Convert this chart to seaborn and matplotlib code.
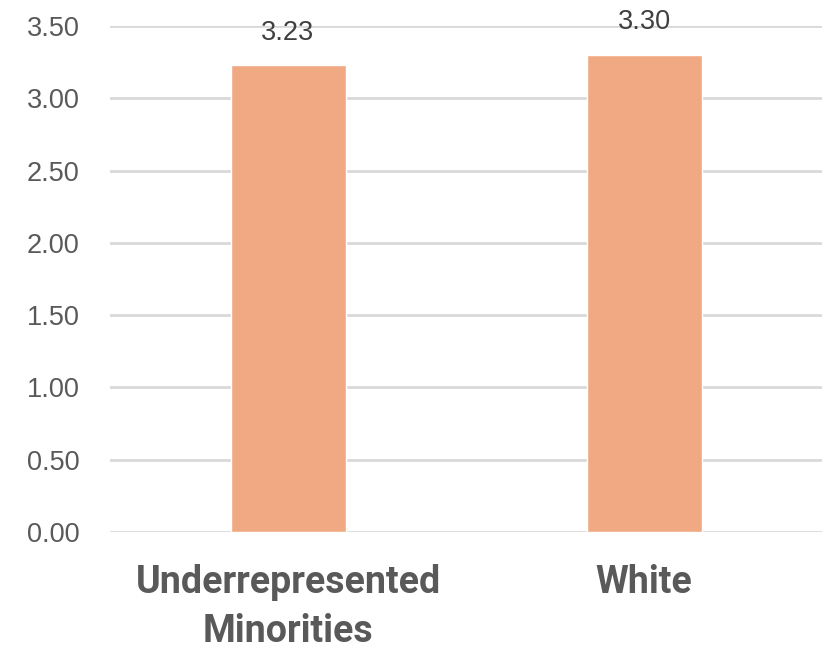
import matplotlib
matplotlib.use("Agg")
import matplotlib.pyplot as plt
from matplotlib import font_manager
import seaborn as sns
import pandas as pd

categories = ["Underrepresented\nMinorities", "White"]
values = [3.23, 3.30]
value_labels = ["3.23", "3.30"]
yticks = [0.0, 0.5, 1.0, 1.5, 2.0, 2.5, 3.0, 3.5]

sns.set_theme(style="white")
plt.rcParams['font.family'] = ['Liberation Sans', 'DejaVu Sans']

available = {f.name for f in font_manager.fontManager.ttflist}
xfont = 'DejaVu Sans'
for cand in ['Roboto', 'Open Sans']:
    if cand in available:
        xfont = cand
        break

df = pd.DataFrame({"cat": categories, "val": values})

fig = plt.figure(figsize=(8.27, 6.5), dpi=100)
ax = fig.add_axes([0.133, 0.1815, 0.861, 0.7785])

sns.barplot(data=df, x="cat", y="val", color="#F1A983", width=0.323,
            saturation=1, ax=ax, zorder=3)

ax.set_ylim(0, 3.5)
ax.set_xlim(-0.5, 1.5)
ax.set_yticks(yticks)
ax.set_yticklabels([f"{t:.2f}" for t in yticks])
ax.yaxis.grid(True, color="#D9D9D9", linewidth=2, zorder=0)
ax.set_axisbelow(True)
for s in ax.spines.values():
    s.set_visible(False)
ax.set_xlabel("")
ax.set_ylabel("")
ax.tick_params(axis='y', length=0, pad=22, labelsize=19.5, labelcolor="#595959")
ax.tick_params(axis='x', length=0, pad=23)
for lbl in ax.get_xticklabels():
    lbl.set_fontfamily(xfont)
    lbl.set_fontweight('bold')
    lbl.set_fontsize(27)
    lbl.set_color("#595959")
    lbl.set_linespacing(1.42)

for i, (v, t) in enumerate(zip(values, value_labels)):
    ax.annotate(t, (i, v), xytext=(0, 14), textcoords="offset points",
                ha="center", va="bottom", fontsize=19.5, color="#404040",
                clip_on=False)

fig.savefig("out.png", dpi=100)
